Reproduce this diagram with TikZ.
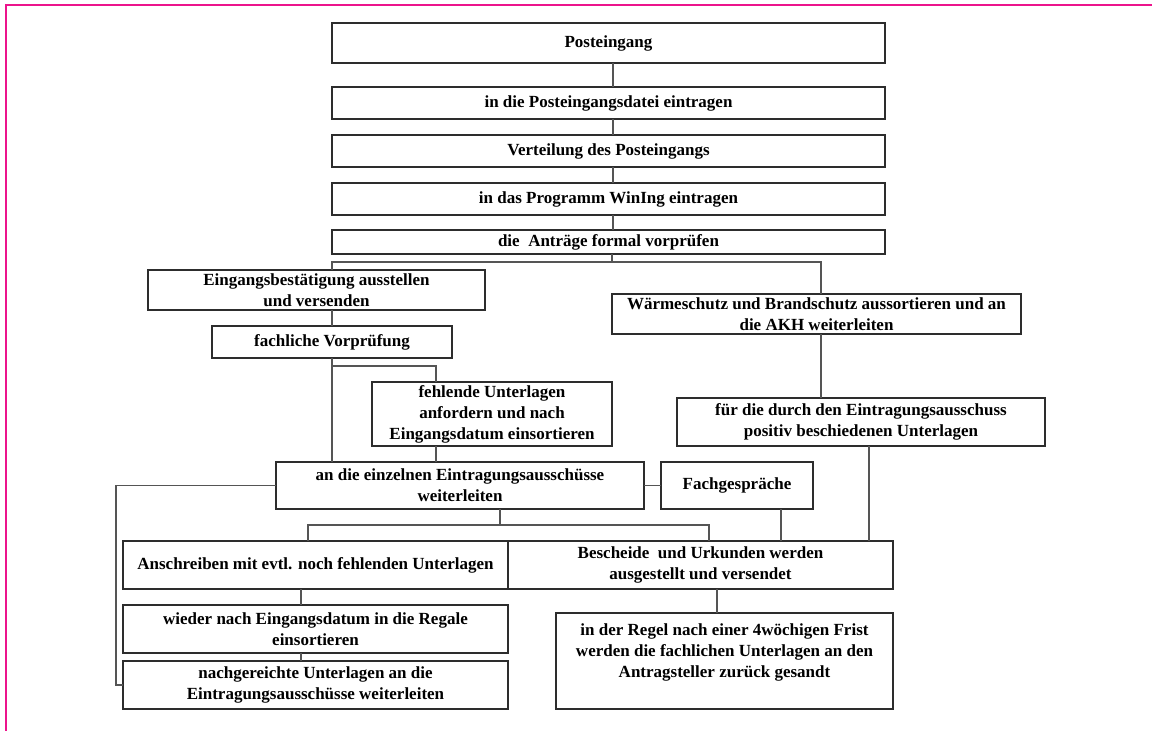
\documentclass[tikz,border=0pt]{standalone}
\usepackage{fontspec}
\setmainfont{Liberation Serif}
\usepackage{tikz}
\definecolor{framepink}{RGB}{236,20,140}
\definecolor{boxline}{RGB}{45,45,45}
\definecolor{wireline}{RGB}{85,85,85}
\tikzstyle{flowbox}=[draw=boxline, line width=1.3pt, inner sep=0, outer sep=0, align=center,
                     font=\fontsize{17}{21}\selectfont\bfseries]
\tikzstyle{widebox}[553pt]=[flowbox, minimum width=#1]
\tikzstyle{wire}=[draw=wireline, line width=1.2pt]
\tikzstyle{flowchart}=[x=1pt, y=-1pt,
                       % keep the page at the size of the scan
                       execute at begin picture={\useasboundingbox (0, 0) rectangle (1152, 731);}]

\begin{document}
\begin{tikzpicture}[flowchart]
        \draw[framepink, line width=2pt] (6, 731) -- (6, 5) -- (1152, 5);
        % main column
        \node[widebox, minimum height=40pt] (post)  at (608.5, 43)  {Posteingang};
        \node[widebox, minimum height=32pt] (datei) at (608.5, 103) {in die Posteingangsdatei eintragen};
        \node[widebox, minimum height=32pt] (vert)  at (608.5, 151) {Verteilung des Posteingangs};
        \node[widebox, minimum height=32pt] (winig) at (608.5, 199) {in das Programm WinIng eintragen};
        \node[widebox, minimum height=24pt] (vorpr) at (608.5, 242) {die\ \ Anträge formal vorprüfen};
        % left branch
        \node[widebox=337pt, minimum height=40pt] (eing) at (316.5, 290) {Eingangsbestätigung ausstellen\\und versenden};
        \node[widebox=240pt, minimum height=32pt] (fach) at (332, 342)   {fachliche Vorprüfung};
        \node[widebox=240pt, minimum height=64pt] (fehl) at (492, 414)   {fehlende Unterlagen\\anfordern und nach\\Eingangsdatum einsortieren};
        \node[widebox=368pt, minimum height=47pt] (andie) at (460, 485.5) {an die einzelnen Eintragungsausschüsse\\weiterleiten};
        \node[widebox=152pt, minimum height=47pt] (gespr) at (737, 485.5) {Fachgespräche};
        % right branch
        \node[widebox=409pt, minimum height=40pt] (waerme) at (816.5, 314) {Wärmeschutz und Brandschutz aussortieren und an\\die AKH weiterleiten};
        \node[widebox=368pt, minimum height=48pt] (fuer) at (861, 422)     {für die durch den Eintragungsausschuss\\positiv beschiedenen Unterlagen};
        % bottom
        \node[widebox=385pt, minimum height=48pt] (ansch)  at (315.5, 565) {Anschreiben mit evtl. noch fehlenden Unterlagen};
        \node[widebox=385pt, minimum height=48pt] (besch)  at (700.5, 565) {Bescheide\ \ und Urkunden werden\\ausgestellt und versendet};
        \node[widebox=385pt, minimum height=48pt] (wieder) at (315.5, 629) {wieder nach Eingangsdatum in die Regale\\einsortieren};
        \node[widebox=385pt, minimum height=48pt] (nachg)  at (315.5, 685) {nachgereichte Unterlagen an die\\Eintragungsausschüsse weiterleiten};
        \node[widebox=337pt, minimum height=96pt] (regel)  at (724.5, 661) {in der Regel nach einer 4wöchigen Frist\\werden die fachlichen Unterlagen an den\\Antragsteller zurück gesandt\\\mbox{}};
        % junctions
        \coordinate (trunk) at (613, 0);
        \coordinate (j1)  at (612, 262);
        \coordinate (j1l) at (332, 262);
        \coordinate (j1r) at (821, 262);
        \coordinate (j2)  at (436, 366);
        \coordinate (j3)  at (500, 525);
        \coordinate (j3l) at (308, 525);
        \coordinate (j3r) at (709, 525);
        \coordinate (j4)  at (781, 0);
        \coordinate (j5)  at (869, 0);
        \coordinate (j6)  at (116, 0);
        \coordinate (j7)  at (717, 0);
        \coordinate (j8)  at (301, 0);
        \draw[wire] (post.south -| trunk) -- (datei.north -| trunk);
        \draw[wire] (datei.south -| trunk) -- (vert.north -| trunk);
        \draw[wire] (vert.south -| trunk) -- (winig.north -| trunk);
        \draw[wire] (winig.south -| trunk) -- (vorpr.north -| trunk);
        \draw[wire] (vorpr.south -| j1) -- (j1);
        \draw[wire] (eing.north -| j1l) -- (j1l) -- (j1r) -- (waerme.north -| j1r);
        \draw[wire] (eing.south -| fach) -- (fach.north);
        \draw[wire] (fach.south) -- (andie.north -| fach);
        \draw[wire] (fach.south |- j2) -- (j2) -- (fehl.north -| j2);
        \draw[wire] (fehl.south -| j2) -- (andie.north -| j2);
        \draw[wire] (waerme.south -| j1r) -- (fuer.north -| j1r);
        \draw[wire] (fuer.south -| j5) -- (besch.north -| j5);
        \draw[wire] (andie.east) -- (gespr.west);
        \draw[wire] (gespr.south -| j4) -- (besch.north -| j4);
        \draw[wire] (andie.south -| j3) -- (j3);
        \draw[wire] (ansch.north -| j3l) -- (j3l) -- (j3r) -- (besch.north -| j3r);
        \draw[wire] (besch.south -| j7) -- (regel.north -| j7);
        \draw[wire] (ansch.south -| j8) -- (wieder.north -| j8);
        \draw[wire] (wieder.south -| j8) -- (nachg.north -| j8);
        \draw[wire] (andie.west) -| (j6 |- nachg.west) -- (nachg.west);
    \end{tikzpicture}
\end{document}
